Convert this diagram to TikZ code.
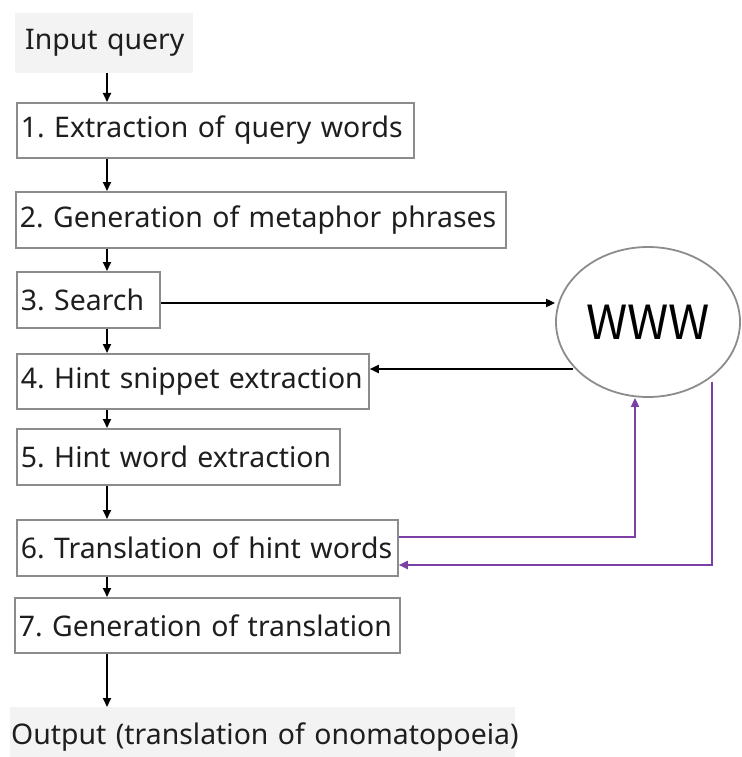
\documentclass[tikz,border=0pt]{standalone}
\usepackage{fontspec}
\setmainfont{Noto Sans}
\newfontfamily\wwwfont{Noto Sans CJK JP}
\usetikzlibrary{arrows.meta,shapes.geometric,calc}
\definecolor{boxgray}{HTML}{8C8C8C}
\definecolor{fillgray}{HTML}{F3F3F3}
\definecolor{purp}{HTML}{7B3FA6}
\definecolor{txt}{HTML}{1E1E1E}
\frenchspacing
\begin{document}
\begin{tikzpicture}[x=1pt,y=-1pt,
  stepbox/.style={draw=boxgray,line width=1.8pt,fill=white,anchor=north west,
    inner sep=0pt,align=left,text=txt,font=\fontsize{28.4}{32}\selectfont},
  iobox/.style={fill=fillgray,anchor=north west,inner sep=0pt,text=txt,align=left,
    font=\fontsize{28.4}{32}\selectfont},
  arr/.style={line width=1.8pt,-{Triangle[length=9pt,width=8pt]}},
  parr/.style={line width=1.8pt,draw=purp,-{Triangle[length=9pt,width=8pt]},color=purp}]
\useasboundingbox (0,0) rectangle (741,757);
\coordinate (sp) at (107,0);
\node[iobox,minimum width=178pt,minimum height=60pt,text width=158pt] (in) at (15,13) {\mbox{Input query}};
\node[stepbox,minimum width=397pt,minimum height=55pt,text width=389pt] (s1) at (16,102) {\mbox{1. Extraction of query words}};
\node[stepbox,minimum width=490pt,minimum height=56pt,text width=482pt] (s2) at (15,191) {\mbox{2. Generation of metaphor phrases}};
\node[stepbox,minimum width=143pt,minimum height=56pt,text width=135pt] (s3) at (16,271) {\mbox{3. Search}};
\node[stepbox,minimum width=352pt,minimum height=55pt,text width=344pt] (s4) at (16,353) {\mbox{4. Hint snippet extraction}};
\node[stepbox,minimum width=323pt,minimum height=56pt,text width=315pt] (s5) at (16,428) {\mbox{5. Hint word extraction}};
\node[stepbox,minimum width=381pt,minimum height=56pt,text width=373pt] (s6) at (16,519) {\mbox{6. Translation of hint words}};
\node[stepbox,minimum width=385pt,minimum height=55pt,text width=377pt] (s7) at (14,597) {\mbox{7. Generation of translation}};
\node[iobox,minimum width=505pt,minimum height=60pt,text width=503pt] (out) at (10,707) {\mbox{Output (translation of onomatopoeia)}};
\node[draw=boxgray,line width=1.8pt,ellipse,minimum width=184pt,minimum height=150pt,inner sep=0pt,
  text=black,font=\wwwfont\fontsize{47}{50}\selectfont] (www) at (648,322) {WWW};
\draw[arr] (in.south -| sp) -- (s1.north -| sp);
\draw[arr] (s1.south -| sp) -- (s2.north -| sp);
\draw[arr] (s2.south -| sp) -- (s3.north -| sp);
\draw[arr] (s3.south -| sp) -- (s4.north -| sp);
\draw[arr] (s4.south -| sp) -- (s5.north -| sp);
\draw[arr] (s5.south -| sp) -- (s6.north -| sp);
\draw[arr] (s6.south -| sp) -- (s7.north -| sp);
\draw[arr] (s7.south -| sp) -- (out.north -| sp);
\draw[arr] (s3.east |- 0,303) -- (www.west |- 0,303);
\coordinate (w1) at (573,369);
\draw[arr] (w1) -- (s4.east |- w1);
\coordinate (p1) at (635,537);
\draw[parr] (s6.east |- p1) -- (p1) -- (www.south -| p1);
\coordinate (p2) at (712,382);
\coordinate (p3) at (712,565);
\draw[parr] (p2) -- (p3) -- (s6.east |- p3);
\end{tikzpicture}
\end{document}
